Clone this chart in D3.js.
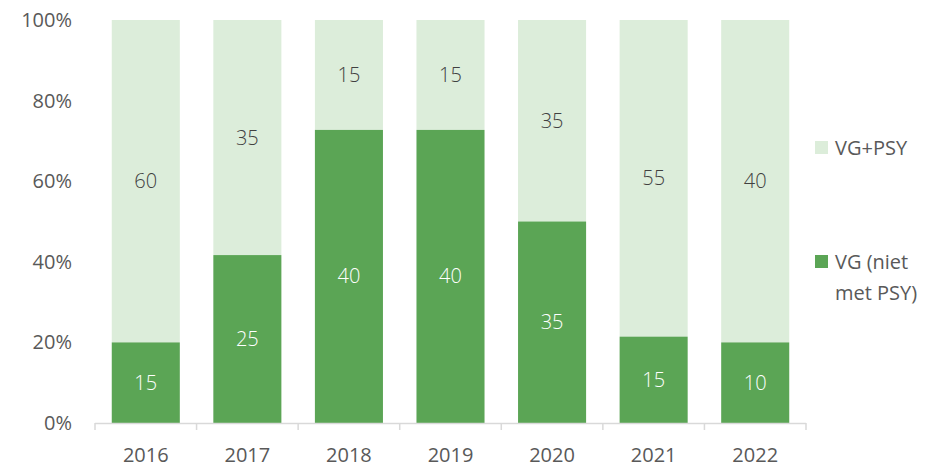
<!DOCTYPE html>
<html><head><meta charset="utf-8">
<script src="https://cdn.jsdelivr.net/npm/d3@7"></script>
<style>body{margin:0;background:#fff;}svg{display:block;font-family:"Open Sans",sans-serif;}</style>
</head><body><svg id="c" width="939" height="465"></svg>
<script>
const years = ["2016","2017","2018","2019","2020","2021","2022"];
const vgOnly = [15,25,40,40,35,15,10];
const vgPsy = [60,35,15,15,35,55,40];
const yTicks = [0,0.2,0.4,0.6,0.8,1];
const seriesNames = ["VG+PSY","VG (niet met PSY)"];
const colDark = "#5ba555", colLight = "#dcedda";

const svg = d3.select("#c");
const m = {l:95, r:806, t:20, b:423};
const x = d3.scaleBand().domain(years).range([m.l, m.r]).paddingInner(0.33).paddingOuter(0.165);
const y = d3.scaleLinear().domain([0,1]).range([m.b, m.t]);

const data = years.map((yr,i)=>{const tot=vgOnly[i]+vgPsy[i];return {yr,a:vgOnly[i],b:vgPsy[i],fa:vgOnly[i]/tot};});

const g = svg.append("g");
g.selectAll(".lt").data(data).join("rect")
 .attr("x",d=>x(d.yr)).attr("width",x.bandwidth())
 .attr("y",y(1)).attr("height",d=>y(d.fa)-y(1)).attr("fill",colLight);
g.selectAll(".dk").data(data).join("rect")
 .attr("x",d=>x(d.yr)).attr("width",x.bandwidth())
 .attr("y",d=>y(d.fa)).attr("height",d=>y(0)-y(d.fa)).attr("fill",colDark);
g.selectAll(".la").data(data).join("text")
 .attr("x",d=>x(d.yr)+x.bandwidth()/2).attr("y",d=>(y(d.fa)+y(0))/2)
 .attr("dy","0.35em").attr("text-anchor","middle").attr("fill","#fff")
 .attr("font-size",20).attr("font-weight",300).text(d=>d.a);
g.selectAll(".lb").data(data).join("text")
 .attr("x",d=>x(d.yr)+x.bandwidth()/2).attr("y",d=>(y(d.fa)+y(1))/2)
 .attr("dy","0.35em").attr("text-anchor","middle").attr("fill","#404040")
 .attr("font-size",20).attr("font-weight",300).text(d=>d.b);

svg.append("g").selectAll("text").data(yTicks).join("text")
 .attr("x",72).attr("y",d=>y(d)).attr("dy","0.35em").attr("text-anchor","end")
 .attr("fill","#595959").attr("font-size",20).text(d=>d3.format(".0%")(d));

const ax = svg.append("g");
ax.append("line").attr("x1",m.l).attr("x2",m.r).attr("y1",m.b+0.5).attr("y2",m.b+0.5).attr("stroke","#d9d9d9").attr("stroke-width",1.5);
const bounds = d3.range(years.length+1).map(i=>m.l+i*(m.r-m.l)/years.length);
ax.selectAll(".tk").data(bounds).join("line")
 .attr("x1",d=>d).attr("x2",d=>d).attr("y1",m.b).attr("y2",m.b+7).attr("stroke","#d9d9d9").attr("stroke-width",1.5);
ax.selectAll(".xl").data(years).join("text")
 .attr("x",d=>x(d)+x.bandwidth()/2).attr("y",455).attr("dy","0.35em").attr("text-anchor","middle")
 .attr("fill","#595959").attr("font-size",20).text(d=>d);

const lg = svg.append("g");
lg.append("rect").attr("x",815).attr("y",141).attr("width",13).attr("height",13).attr("fill",colLight);
lg.append("text").attr("x",835).attr("y",148).attr("dy","0.35em").attr("fill","#595959").attr("font-size",20).text(seriesNames[0]);
lg.append("rect").attr("x",815).attr("y",255).attr("width",13).attr("height",13).attr("fill",colDark);
const t2 = lg.append("text").attr("x",835).attr("y",262).attr("dy","0.35em").attr("fill","#595959").attr("font-size",20);
t2.append("tspan").attr("x",835).text("VG (niet");
t2.append("tspan").attr("x",835).attr("dy",31).text("met PSY)");
</script></body></html>
